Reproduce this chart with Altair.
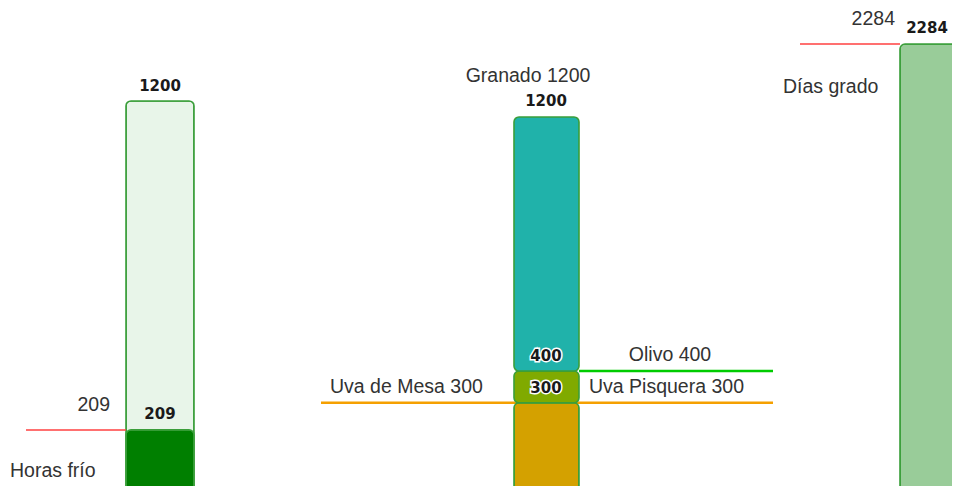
import altair as alt
import pandas as pd

# ---------------- data ----------------
hf_labels = ["Horas frío"]
hf_max = [1200]
hf_value = [209]

crop_names = ["Uva de Mesa", "Uva Pisquera", "Olivo", "Granado"]
crop_values = [300, 300, 400, 1200]

seg_start = [0, 300, 400]
seg_end = [300, 400, 1200]
seg_labels = ["Uva", "Olivo", "Granado"]

dg_labels = ["Días grado"]
dg_value = [2284]

# ---------------- style / layout ----------------
FONT = "Liberation Sans"
BOLD_FONT = "DejaVu Sans"
W, H = 944, 478
STROKE = "#3a9e3a"
BASE = H - 1  # bars run down to the bottom of the drawing


def yscale(lo, hi):
    return alt.Scale(domain=[lo, hi], nice=False, zero=False)

Y_LEFT = yscale(40, 1480)
Y_MID = yscale(38, 1543)
Y_RIGHT = yscale(61, 2465)


def bar(df, y, color, xa, xb, sc, y2=None, radius=5):
    enc = dict(x=alt.value(xa), x2=alt.value(xb),
               y=alt.Y(f"{y}:Q", scale=sc, axis=None))
    enc["y2"] = alt.Y2(f"{y2}:Q") if y2 else alt.value(BASE)
    return alt.Chart(df).mark_bar(
        color=color, stroke=STROKE, strokeWidth=1.6, cornerRadius=radius
    ).encode(**enc)


def rule(df, y, color, xa, xb, sc, width=2.5):
    return alt.Chart(df).mark_rule(color=color, strokeWidth=width).encode(
        x=alt.value(xa), x2=alt.value(xb),
        y=alt.Y(f"{y}:Q", scale=sc, axis=None),
    )


def text(df, y, label, x, dy, sc, align="center", bold=False, halo=False):
    if bold:
        kw = dict(font=BOLD_FONT, fontSize=15, fontWeight="bold")
    else:
        kw = dict(font=FONT, fontSize=19.5, fontWeight="normal")
    kw.update(align=align, baseline="middle", dy=dy)
    yenc = alt.Y(f"{y}:Q", scale=sc, axis=None) if isinstance(y, str) else alt.value(y)
    enc = dict(x=alt.value(x), y=yenc, text=alt.Text(f"{label}:N"))
    layers = []
    if halo:
        layers.append(alt.Chart(df).mark_text(color="white", stroke="white",
                                              strokeWidth=3, **kw).encode(**enc))
    layers.append(alt.Chart(df).mark_text(color="#1a1a1a" if bold else "#333333",
                                          **kw).encode(**enc))
    return alt.layer(*layers)


# ---------------- left panel: Horas frío ----------------
left_df = pd.DataFrame({"name": hf_labels, "max": hf_max, "value": hf_value})
left_df["max_txt"] = left_df["max"].astype(str)
left_df["val_txt"] = left_df["value"].astype(str)

left = alt.layer(
    bar(left_df, "max", "#e8f5e9", 118, 186, Y_LEFT),
    bar(left_df, "value", "#007f00", 118, 186, Y_LEFT),
    rule(left_df, "value", "#ff4040", 18, 118, Y_LEFT, 1.5),
    text(left_df, "max", "max_txt", 152, -15, Y_LEFT, bold=True),
    text(left_df, "value", "val_txt", 152, -16, Y_LEFT, bold=True),
    text(left_df, "value", "val_txt", 102, -25, Y_LEFT, align="right"),
    text(left_df, H - 15, "name", 2, 0, Y_LEFT, align="left"),
)

# ---------------- middle panel: crops ----------------
seg_df = pd.DataFrame({"start": seg_start, "end": seg_end, "seg": seg_labels})
seg_colors = {"Uva": "#d4a100", "Olivo": "#80aa00", "Granado": "#20b2aa"}

crop_df = pd.DataFrame({"name": crop_names, "value": crop_values})
crop_df["label"] = crop_df["name"] + " " + crop_df["value"].astype(str)
crop_df["num"] = crop_df["value"].astype(str)

mesa = crop_df[crop_df.name == "Uva de Mesa"]
pisq = crop_df[crop_df.name == "Uva Pisquera"]
olivo = crop_df[crop_df.name == "Olivo"]
gran = crop_df[crop_df.name == "Granado"]

mid_bars = []
for s, c in seg_colors.items():
    d = seg_df[seg_df.seg == s]
    if s == "Uva":
        mid_bars.append(bar(d, "end", c, 506, 571, Y_MID))
    else:
        mid_bars.append(bar(d, "end", c, 506, 571, Y_MID, y2="start"))

mid = alt.layer(
    rule(mesa, "value", "#f5a000", 313, 765, Y_MID, 2.5),
    *mid_bars,
    rule(olivo, "value", "#00cc00", 571, 765, Y_MID, 2.5),
    text(gran, "value", "label", 520, -41, Y_MID),
    text(gran, "value", "num", 538, -16, Y_MID, bold=True),
    text(olivo, "value", "num", 538, -15, Y_MID, bold=True, halo=True),
    text(pisq, "value", "num", 538, -15, Y_MID, bold=True, halo=True),
    text(olivo, "value", "label", 662, -16, Y_MID),
    text(mesa, "value", "label", 322, -16, Y_MID, align="left"),
    text(pisq, "value", "label", 581, -16, Y_MID, align="left"),
)

# ---------------- right panel: Días grado ----------------
right_df = pd.DataFrame({"name": dg_labels, "value": dg_value})
right_df["val_txt"] = right_df["value"].astype(str)

right = alt.layer(
    bar(right_df, "value", "#99cc99", 892, 960, Y_RIGHT),
    rule(right_df, "value", "#ff4040", 792, 892, Y_RIGHT, 1.5),
    text(right_df, "value", "val_txt", 887, -25, Y_RIGHT, align="right"),
    text(right_df, "value", "val_txt", 919, -16, Y_RIGHT, bold=True),
    text(right_df, "value", "name", 775, 43, Y_RIGHT, align="left"),
)

chart = alt.layer(left, mid, right).resolve_scale(y="independent").properties(
    width=W, height=H, padding=0, autosize=alt.AutoSizeParams(type="none")
).configure_view(stroke=None)

chart.save("out.html", embed_options={"renderer": "svg", "actions": False})
